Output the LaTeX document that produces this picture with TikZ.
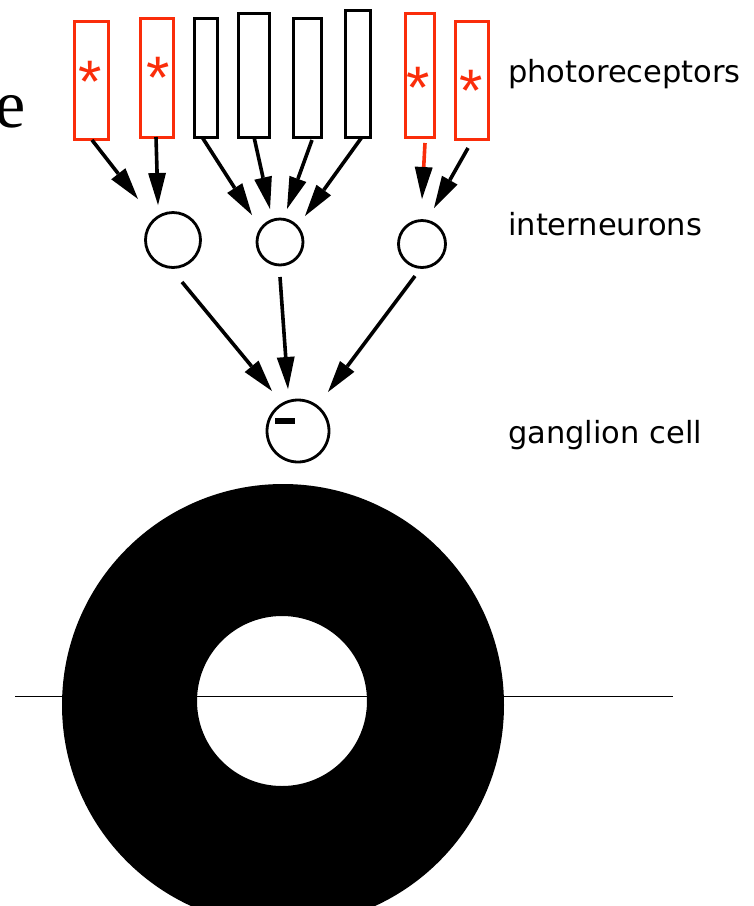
\documentclass[tikz,border=0pt]{standalone}
\usepackage{fontspec}
\setmainfont{DejaVu Sans}
\newfontfamily\serifface{Liberation Serif}
\newfontfamily\starface{Liberation Sans}
\usetikzlibrary{arrows.meta}
\definecolor{hotred}{RGB}{250,45,10}

\tikzset{
  cellbox/.style={draw, line width=2.8pt, inner sep=0pt, anchor=north west},
  litbox/.style={cellbox, draw=hotred},
  asterisk/.style={anchor=base, inner sep=0pt, text=hotred,
    font=\starface\fontsize{60}{60}\selectfont},
  neuron/.style={circle, draw, line width=2.8pt, inner sep=0pt},
  arr/.style={line width=3.6pt, -{Triangle[length=32pt,width=18pt,line width=0pt]}},
  redarr/.style={line width=3.6pt, draw=hotred,
    -{Triangle[length=32pt,width=18pt,line width=0pt,color=black,fill=black]}},
  lbl/.style={anchor=base west, inner sep=0pt,
    font=\fontsize{30.5}{30.5}\selectfont}
}

\begin{document}
\begin{tikzpicture}[x=1pt, y=-1pt]
  \useasboundingbox (0,0) rectangle (754,906);

  % part of a large serif letter cut by the left edge
  \node[anchor=base west, inner sep=0pt] (lettere) at (-5,127)
    {\serifface\fontsize{68}{68}\selectfont e};

  % photoreceptors
  \node[litbox,  minimum width=34pt, minimum height=118pt] (r1) at (73,20) {};
  \node[litbox,  minimum width=33pt, minimum height=119pt] (r2) at (139,17) {};
  \node[cellbox, minimum width=23pt, minimum height=119pt] (r3) at (193,17) {};
  \node[cellbox, minimum width=31pt, minimum height=124pt] (r4) at (237,12) {};
  \node[cellbox, minimum width=28pt, minimum height=119pt] (r5) at (292,17) {};
  \node[cellbox, minimum width=25pt, minimum height=127pt] (r6) at (344,9) {};
  \node[litbox,  minimum width=29pt, minimum height=124pt] (r7) at (404,12) {};
  \node[litbox,  minimum width=33pt, minimum height=118pt] (r8) at (454,20) {};

  \node[asterisk] (s1) at (90,102) {*};
  \node[asterisk] (s2) at (158,98) {*};
  \node[asterisk] (s7) at (418,108) {*};
  \node[asterisk] (s8) at (471,111) {*};

  % interneurons and ganglion cell
  \node[neuron, minimum size=55pt] (i1) at (173,240) {};
  \node[neuron, minimum size=46pt] (i2) at (280,242) {};
  \node[neuron, minimum size=47pt] (i3) at (422,244) {};
  \node[neuron, minimum size=62pt] (g) at (298,431) {};
  \fill (275,418) rectangle (295,423.5);

  % connector end points
  \coordinate (r1o) at (92,140);   \coordinate (i1a) at (138,199);
  \coordinate (r2o) at (156,137);  \coordinate (i1b) at (158,205);
  \coordinate (r3o) at (202,137);  \coordinate (i2a) at (252,215);
  \coordinate (r4o) at (254,137);  \coordinate (i2b) at (270,209);
  \coordinate (r5o) at (312,140);  \coordinate (i2c) at (287,209);
  \coordinate (r6o) at (362,137);  \coordinate (i2d) at (305,216);
  \coordinate (r7o) at (425,143);  \coordinate (i3a) at (422,199);
  \coordinate (r8o) at (468,148);  \coordinate (i3b) at (434,208);
  \coordinate (i1o) at (182,282);  \coordinate (ga) at (272,391);
  \coordinate (i2o) at (280,277);  \coordinate (gb) at (288,389);
  \coordinate (i3o) at (415,276);  \coordinate (gc) at (328,392);

  \draw[arr] (r1o) -- (i1a);
  \draw[arr] (r2o) -- (i1b);
  \draw[arr] (r3o) -- (i2a);
  \draw[arr] (r4o) -- (i2b);
  \draw[arr] (r5o) -- (i2c);
  \draw[arr] (r6o) -- (i2d);
  \draw[redarr] (r7o) -- (i3a);
  \draw[arr] (r8o) -- (i3b);
  \draw[arr] (i1o) -- (ga);
  \draw[arr] (i2o) -- (gb);
  \draw[arr] (i3o) -- (gc);

  % receptive field: dark surround with a light centre
  \fill[even odd rule] (283,705) circle[radius=221pt] (282,701) circle[radius=85pt];
  \coordinate (axl) at (15,696.5);
  \coordinate (axr) at (673,696.5);
  \draw[line width=1.8pt] (axl) -- (axr);

  % labels
  \node[lbl] (tp) at (508,82)  {photoreceptors};
  \node[lbl] (ti) at (508,235) {interneurons};
  \node[lbl] (tg) at (508,443) {ganglion cell};
\end{tikzpicture}
\end{document}
